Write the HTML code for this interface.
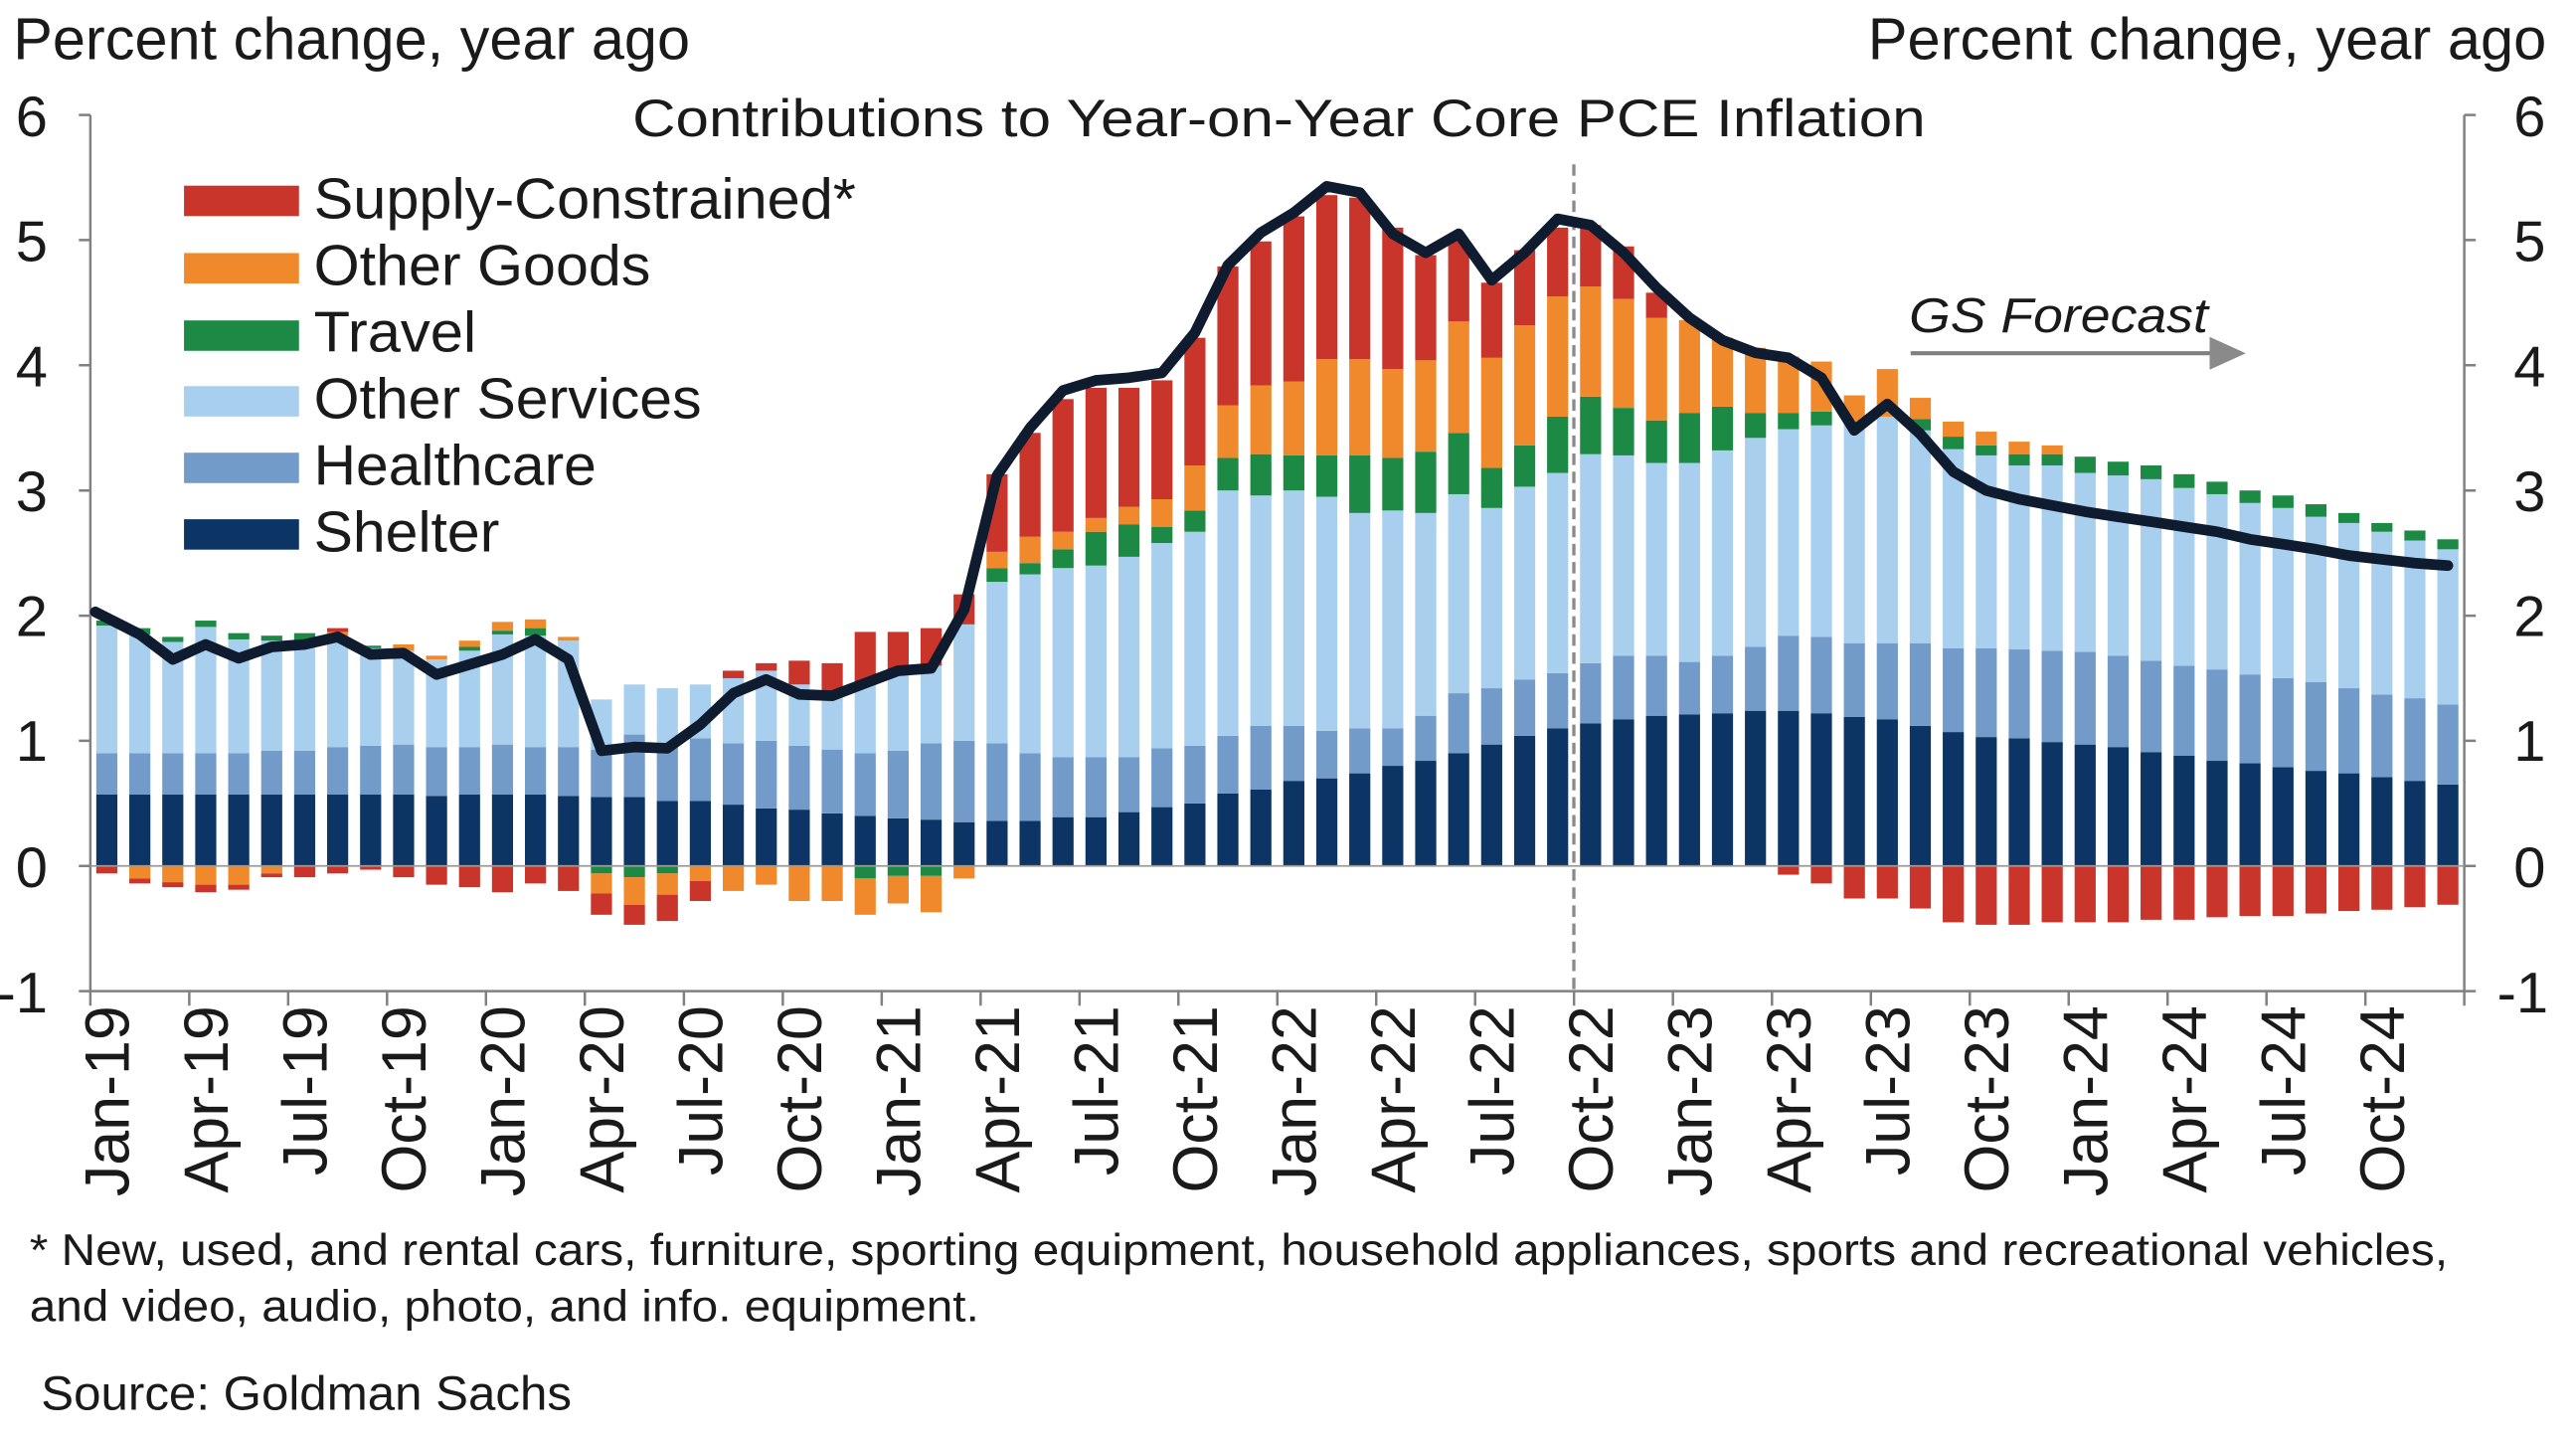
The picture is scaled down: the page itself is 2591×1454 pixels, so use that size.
<!DOCTYPE html>
<html><head><meta charset="utf-8"><style>
html,body{margin:0;padding:0;background:#fff;}
svg{display:block;}
text{font-family:"Liberation Sans",Arial,sans-serif;fill:#1a1a1a;}
</style></head><body>
<svg width="2591" height="1454" viewBox="0 0 1568 880" preserveAspectRatio="none" xmlns="http://www.w3.org/2000/svg">
<rect x="0" y="0" width="1568" height="880" fill="#fff"/>
<!-- headers -->
<text x="8" y="36" font-size="36" textLength="412" lengthAdjust="spacingAndGlyphs">Percent change, year ago</text>
<text x="1137" y="36" font-size="36" textLength="413" lengthAdjust="spacingAndGlyphs">Percent change, year ago</text>
<text x="385" y="83" font-size="32" textLength="787" lengthAdjust="spacingAndGlyphs">Contributions to Year-on-Year Core PCE Inflation</text>

<!-- data -->
<g transform="translate(55,527) scale(20.07,-76.17)">
<g fill="#0c3566">
<rect x=".18" width=".64" height=".57"/><rect x="1.18" width=".64" height=".57"/><rect x="2.18" width=".64" height=".57"/><rect x="3.18" width=".64" height=".57"/><rect x="4.18" width=".64" height=".57"/><rect x="5.18" width=".64" height=".57"/><rect x="6.18" width=".64" height=".57"/><rect x="7.18" width=".64" height=".57"/><rect x="8.18" width=".64" height=".57"/><rect x="9.18" width=".64" height=".57"/><rect x="10.18" width=".64" height=".56"/><rect x="11.18" width=".64" height=".57"/><rect x="12.18" width=".64" height=".57"/><rect x="13.18" width=".64" height=".57"/><rect x="14.18" width=".64" height=".56"/><rect x="15.18" width=".64" height=".55"/><rect x="16.18" width=".64" height=".55"/><rect x="17.18" width=".64" height=".52"/><rect x="18.18" width=".64" height=".52"/><rect x="19.18" width=".64" height=".49"/><rect x="20.18" width=".64" height=".46"/><rect x="21.18" width=".64" height=".45"/><rect x="22.18" width=".64" height=".42"/><rect x="23.18" width=".64" height=".4"/><rect x="24.18" width=".64" height=".38"/><rect x="25.18" width=".64" height=".37"/><rect x="26.18" width=".64" height=".35"/><rect x="27.18" width=".64" height=".36"/><rect x="28.18" width=".64" height=".36"/><rect x="29.18" width=".64" height=".39"/><rect x="30.18" width=".64" height=".39"/><rect x="31.18" width=".64" height=".43"/><rect x="32.18" width=".64" height=".47"/><rect x="33.18" width=".64" height=".5"/><rect x="34.18" width=".64" height=".58"/><rect x="35.18" width=".64" height=".61"/><rect x="36.18" width=".64" height=".68"/><rect x="37.18" width=".64" height=".7"/><rect x="38.18" width=".64" height=".74"/><rect x="39.18" width=".64" height=".8"/><rect x="40.18" width=".64" height=".84"/><rect x="41.18" width=".64" height=".9"/><rect x="42.18" width=".64" height=".97"/><rect x="43.18" width=".64" height="1.04"/><rect x="44.18" width=".64" height="1.1"/><rect x="45.18" width=".64" height="1.14"/><rect x="46.18" width=".64" height="1.17"/><rect x="47.18" width=".64" height="1.2"/><rect x="48.18" width=".64" height="1.21"/><rect x="49.18" width=".64" height="1.22"/><rect x="50.18" width=".64" height="1.24"/><rect x="51.18" width=".64" height="1.24"/><rect x="52.18" width=".64" height="1.22"/><rect x="53.18" width=".64" height="1.19"/><rect x="54.18" width=".64" height="1.17"/><rect x="55.18" width=".64" height="1.12"/><rect x="56.18" width=".64" height="1.07"/><rect x="57.18" width=".64" height="1.03"/><rect x="58.18" width=".64" height="1.02"/><rect x="59.18" width=".64" height=".99"/><rect x="60.18" width=".64" height=".97"/><rect x="61.18" width=".64" height=".95"/><rect x="62.18" width=".64" height=".91"/><rect x="63.18" width=".64" height=".88"/><rect x="64.18" width=".64" height=".84"/><rect x="65.18" width=".64" height=".82"/><rect x="66.18" width=".64" height=".79"/><rect x="67.18" width=".64" height=".76"/><rect x="68.18" width=".64" height=".74"/><rect x="69.18" width=".64" height=".71"/><rect x="70.18" width=".64" height=".68"/><rect x="71.18" width=".64" height=".65"/>
</g>
<g fill="#729bc9">
<rect x=".18" y=".57" width=".64" height=".33"/><rect x="1.18" y=".57" width=".64" height=".33"/><rect x="2.18" y=".57" width=".64" height=".33"/><rect x="3.18" y=".57" width=".64" height=".33"/><rect x="4.18" y=".57" width=".64" height=".33"/><rect x="5.18" y=".57" width=".64" height=".35"/><rect x="6.18" y=".57" width=".64" height=".35"/><rect x="7.18" y=".57" width=".64" height=".38"/><rect x="8.18" y=".57" width=".64" height=".39"/><rect x="9.18" y=".57" width=".64" height=".4"/><rect x="10.18" y=".56" width=".64" height=".39"/><rect x="11.18" y=".57" width=".64" height=".38"/><rect x="12.18" y=".57" width=".64" height=".4"/><rect x="13.18" y=".57" width=".64" height=".38"/><rect x="14.18" y=".56" width=".64" height=".39"/><rect x="15.18" y=".55" width=".64" height=".38"/><rect x="16.18" y=".55" width=".64" height=".5"/><rect x="17.18" y=".52" width=".64" height=".46"/><rect x="18.18" y=".52" width=".64" height=".5"/><rect x="19.18" y=".49" width=".64" height=".49"/><rect x="20.18" y=".46" width=".64" height=".54"/><rect x="21.18" y=".45" width=".64" height=".51"/><rect x="22.18" y=".42" width=".64" height=".51"/><rect x="23.18" y=".4" width=".64" height=".5"/><rect x="24.18" y=".38" width=".64" height=".54"/><rect x="25.18" y=".37" width=".64" height=".61"/><rect x="26.18" y=".35" width=".64" height=".65"/><rect x="27.18" y=".36" width=".64" height=".62"/><rect x="28.18" y=".36" width=".64" height=".54"/><rect x="29.18" y=".39" width=".64" height=".48"/><rect x="30.18" y=".39" width=".64" height=".48"/><rect x="31.18" y=".43" width=".64" height=".44"/><rect x="32.18" y=".47" width=".64" height=".47"/><rect x="33.18" y=".5" width=".64" height=".46"/><rect x="34.18" y=".58" width=".64" height=".46"/><rect x="35.18" y=".61" width=".64" height=".51"/><rect x="36.18" y=".68" width=".64" height=".44"/><rect x="37.18" y=".7" width=".64" height=".38"/><rect x="38.18" y=".74" width=".64" height=".36"/><rect x="39.18" y=".8" width=".64" height=".3"/><rect x="40.18" y=".84" width=".64" height=".36"/><rect x="41.18" y=".9" width=".64" height=".48"/><rect x="42.18" y=".97" width=".64" height=".45"/><rect x="43.18" y="1.04" width=".64" height=".45"/><rect x="44.18" y="1.1" width=".64" height=".44"/><rect x="45.18" y="1.14" width=".64" height=".48"/><rect x="46.18" y="1.17" width=".64" height=".51"/><rect x="47.18" y="1.2" width=".64" height=".48"/><rect x="48.18" y="1.21" width=".64" height=".42"/><rect x="49.18" y="1.22" width=".64" height=".46"/><rect x="50.18" y="1.24" width=".64" height=".51"/><rect x="51.18" y="1.24" width=".64" height=".6"/><rect x="52.18" y="1.22" width=".64" height=".61"/><rect x="53.18" y="1.19" width=".64" height=".59"/><rect x="54.18" y="1.17" width=".64" height=".61"/><rect x="55.18" y="1.12" width=".64" height=".66"/><rect x="56.18" y="1.07" width=".64" height=".67"/><rect x="57.18" y="1.03" width=".64" height=".71"/><rect x="58.18" y="1.02" width=".64" height=".71"/><rect x="59.18" y=".99" width=".64" height=".73"/><rect x="60.18" y=".97" width=".64" height=".74"/><rect x="61.18" y=".95" width=".64" height=".73"/><rect x="62.18" y=".91" width=".64" height=".73"/><rect x="63.18" y=".88" width=".64" height=".72"/><rect x="64.18" y=".84" width=".64" height=".73"/><rect x="65.18" y=".82" width=".64" height=".71"/><rect x="66.18" y=".79" width=".64" height=".71"/><rect x="67.18" y=".76" width=".64" height=".71"/><rect x="68.18" y=".74" width=".64" height=".68"/><rect x="69.18" y=".71" width=".64" height=".66"/><rect x="70.18" y=".68" width=".64" height=".66"/><rect x="71.18" y=".65" width=".64" height=".64"/>
</g>
<g fill="#a9cfee">
<rect x=".18" y=".9" width=".64" height="1.02"/><rect x="1.18" y=".9" width=".64" height=".95"/><rect x="2.18" y=".9" width=".64" height=".89"/><rect x="3.18" y=".9" width=".64" height="1.01"/><rect x="4.18" y=".9" width=".64" height=".91"/><rect x="5.18" y=".92" width=".64" height=".88"/><rect x="6.18" y=".92" width=".64" height=".88"/><rect x="7.18" y=".95" width=".64" height=".89"/><rect x="8.18" y=".96" width=".64" height=".78"/><rect x="9.18" y=".97" width=".64" height=".75"/><rect x="10.18" y=".95" width=".64" height=".7"/><rect x="11.18" y=".95" width=".64" height=".77"/><rect x="12.18" y=".97" width=".64" height=".88"/><rect x="13.18" y=".95" width=".64" height=".89"/><rect x="14.18" y=".95" width=".64" height=".85"/><rect x="15.18" y=".93" width=".64" height=".4"/><rect x="16.18" y="1.05" width=".64" height=".4"/><rect x="17.18" y=".98" width=".64" height=".44"/><rect x="18.18" y="1.02" width=".64" height=".43"/><rect x="19.18" y=".98" width=".64" height=".52"/><rect x="20.18" y="1" width=".64" height=".56"/><rect x="21.18" y=".96" width=".64" height=".49"/><rect x="22.18" y=".93" width=".64" height=".45"/><rect x="23.18" y=".9" width=".64" height=".55"/><rect x="24.18" y=".92" width=".64" height=".63"/><rect x="25.18" y=".98" width=".64" height=".62"/><rect x="26.18" y="1" width=".64" height=".93"/><rect x="27.18" y=".98" width=".64" height="1.29"/><rect x="28.18" y=".9" width=".64" height="1.43"/><rect x="29.18" y=".87" width=".64" height="1.51"/><rect x="30.18" y=".87" width=".64" height="1.53"/><rect x="31.18" y=".87" width=".64" height="1.6"/><rect x="32.18" y=".94" width=".64" height="1.64"/><rect x="33.18" y=".96" width=".64" height="1.71"/><rect x="34.18" y="1.04" width=".64" height="1.96"/><rect x="35.18" y="1.12" width=".64" height="1.84"/><rect x="36.18" y="1.12" width=".64" height="1.88"/><rect x="37.18" y="1.08" width=".64" height="1.87"/><rect x="38.18" y="1.1" width=".64" height="1.72"/><rect x="39.18" y="1.1" width=".64" height="1.74"/><rect x="40.18" y="1.2" width=".64" height="1.62"/><rect x="41.18" y="1.38" width=".64" height="1.59"/><rect x="42.18" y="1.42" width=".64" height="1.44"/><rect x="43.18" y="1.49" width=".64" height="1.54"/><rect x="44.18" y="1.54" width=".64" height="1.6"/><rect x="45.18" y="1.62" width=".64" height="1.67"/><rect x="46.18" y="1.68" width=".64" height="1.6"/><rect x="47.18" y="1.68" width=".64" height="1.54"/><rect x="48.18" y="1.63" width=".64" height="1.59"/><rect x="49.18" y="1.68" width=".64" height="1.64"/><rect x="50.18" y="1.75" width=".64" height="1.67"/><rect x="51.18" y="1.84" width=".64" height="1.65"/><rect x="52.18" y="1.83" width=".64" height="1.69"/><rect x="53.18" y="1.78" width=".64" height="1.75"/><rect x="54.18" y="1.78" width=".64" height="1.81"/><rect x="55.18" y="1.78" width=".64" height="1.7"/><rect x="56.18" y="1.74" width=".64" height="1.59"/><rect x="57.18" y="1.74" width=".64" height="1.54"/><rect x="58.18" y="1.73" width=".64" height="1.47"/><rect x="59.18" y="1.72" width=".64" height="1.48"/><rect x="60.18" y="1.71" width=".64" height="1.43"/><rect x="61.18" y="1.68" width=".64" height="1.44"/><rect x="62.18" y="1.64" width=".64" height="1.45"/><rect x="63.18" y="1.6" width=".64" height="1.42"/><rect x="64.18" y="1.57" width=".64" height="1.4"/><rect x="65.18" y="1.53" width=".64" height="1.37"/><rect x="66.18" y="1.5" width=".64" height="1.36"/><rect x="67.18" y="1.47" width=".64" height="1.32"/><rect x="68.18" y="1.42" width=".64" height="1.32"/><rect x="69.18" y="1.37" width=".64" height="1.3"/><rect x="70.18" y="1.34" width=".64" height="1.26"/><rect x="71.18" y="1.29" width=".64" height="1.24"/>
</g>
<g fill="#1c8a45">
<rect x=".18" y="1.92" width=".64" height=".04"/><rect x="1.18" y="1.85" width=".64" height=".05"/><rect x="2.18" y="1.79" width=".64" height=".04"/><rect x="3.18" y="1.91" width=".64" height=".05"/><rect x="4.18" y="1.81" width=".64" height=".05"/><rect x="5.18" y="1.8" width=".64" height=".04"/><rect x="6.18" y="1.8" width=".64" height=".06"/><rect x="8.18" y="1.74" width=".64" height=".02"/><rect x="11.18" y="1.72" width=".64" height=".03"/><rect x="12.18" y="1.85" width=".64" height=".03"/><rect x="13.18" y="1.84" width=".64" height=".06"/>
<rect x="27.18" y="2.27" width=".64" height=".11"/><rect x="28.18" y="2.33" width=".64" height=".09"/><rect x="29.18" y="2.38" width=".64" height=".15"/><rect x="30.18" y="2.4" width=".64" height=".27"/><rect x="31.18" y="2.47" width=".64" height=".26"/><rect x="32.18" y="2.58" width=".64" height=".13"/><rect x="33.18" y="2.67" width=".64" height=".17"/><rect x="34.18" y="3" width=".64" height=".26"/><rect x="35.18" y="2.96" width=".64" height=".33"/><rect x="36.18" y="3" width=".64" height=".28"/><rect x="37.18" y="2.95" width=".64" height=".33"/><rect x="38.18" y="2.82" width=".64" height=".46"/><rect x="39.18" y="2.84" width=".64" height=".42"/><rect x="40.18" y="2.82" width=".64" height=".49"/><rect x="41.18" y="2.97" width=".64" height=".49"/><rect x="42.18" y="2.86" width=".64" height=".32"/><rect x="43.18" y="3.03" width=".64" height=".33"/><rect x="44.18" y="3.14" width=".64" height=".45"/><rect x="45.18" y="3.29" width=".64" height=".46"/><rect x="46.18" y="3.28" width=".64" height=".38"/><rect x="47.18" y="3.22" width=".64" height=".34"/><rect x="48.18" y="3.22" width=".64" height=".4"/><rect x="49.18" y="3.32" width=".64" height=".35"/><rect x="50.18" y="3.42" width=".64" height=".2"/><rect x="51.18" y="3.49" width=".64" height=".13"/><rect x="52.18" y="3.52" width=".64" height=".11"/><rect x="53.18" y="3.53" width=".64" height=".02"/><rect x="55.18" y="3.48" width=".64" height=".09"/><rect x="56.18" y="3.33" width=".64" height=".1"/><rect x="57.18" y="3.28" width=".64" height=".08"/><rect x="58.18" y="3.2" width=".64" height=".09"/><rect x="59.18" y="3.2" width=".64" height=".09"/><rect x="60.18" y="3.14" width=".64" height=".13"/><rect x="61.18" y="3.12" width=".64" height=".11"/><rect x="62.18" y="3.09" width=".64" height=".11"/><rect x="63.18" y="3.02" width=".64" height=".11"/><rect x="64.18" y="2.97" width=".64" height=".1"/><rect x="65.18" y="2.9" width=".64" height=".1"/><rect x="66.18" y="2.86" width=".64" height=".1"/><rect x="67.18" y="2.79" width=".64" height=".1"/><rect x="68.18" y="2.74" width=".64" height=".08"/><rect x="69.18" y="2.67" width=".64" height=".07"/><rect x="70.18" y="2.6" width=".64" height=".08"/><rect x="71.18" y="2.53" width=".64" height=".08"/>
<rect x="15.18" y="-.06" width=".64" height=".06"/><rect x="16.18" y="-.09" width=".64" height=".09"/><rect x="17.18" y="-.06" width=".64" height=".06"/><rect x="23.18" y="-.1" width=".64" height=".1"/><rect x="24.18" y="-.08" width=".64" height=".08"/><rect x="25.18" y="-.08" width=".64" height=".08"/>
</g>
<g fill="#f0892c">
<rect x="7.18" y="1.84" width=".64" height=".03"/><rect x="9.18" y="1.72" width=".64" height=".05"/><rect x="10.18" y="1.65" width=".64" height=".03"/><rect x="11.18" y="1.75" width=".64" height=".05"/><rect x="12.18" y="1.88" width=".64" height=".07"/><rect x="13.18" y="1.9" width=".64" height=".07"/><rect x="14.18" y="1.8" width=".64" height=".03"/>
<rect x="27.18" y="2.38" width=".64" height=".13"/><rect x="28.18" y="2.42" width=".64" height=".21"/><rect x="29.18" y="2.53" width=".64" height=".14"/><rect x="30.18" y="2.67" width=".64" height=".11"/><rect x="31.18" y="2.73" width=".64" height=".14"/><rect x="32.18" y="2.71" width=".64" height=".22"/><rect x="33.18" y="2.84" width=".64" height=".36"/><rect x="34.18" y="3.26" width=".64" height=".42"/><rect x="35.18" y="3.29" width=".64" height=".55"/><rect x="36.18" y="3.28" width=".64" height=".59"/><rect x="37.18" y="3.28" width=".64" height=".77"/><rect x="38.18" y="3.28" width=".64" height=".77"/><rect x="39.18" y="3.26" width=".64" height=".71"/><rect x="40.18" y="3.31" width=".64" height=".73"/><rect x="41.18" y="3.46" width=".64" height=".89"/><rect x="42.18" y="3.18" width=".64" height=".88"/><rect x="43.18" y="3.36" width=".64" height=".96"/><rect x="44.18" y="3.59" width=".64" height=".96"/><rect x="45.18" y="3.75" width=".64" height=".88"/><rect x="46.18" y="3.66" width=".64" height=".87"/><rect x="47.18" y="3.56" width=".64" height=".82"/><rect x="48.18" y="3.62" width=".64" height=".74"/><rect x="49.18" y="3.67" width=".64" height=".55"/><rect x="50.18" y="3.62" width=".64" height=".52"/><rect x="51.18" y="3.62" width=".64" height=".45"/><rect x="52.18" y="3.63" width=".64" height=".4"/><rect x="53.18" y="3.55" width=".64" height=".21"/><rect x="54.18" y="3.59" width=".64" height=".38"/><rect x="55.18" y="3.57" width=".64" height=".17"/><rect x="56.18" y="3.43" width=".64" height=".12"/><rect x="57.18" y="3.36" width=".64" height=".11"/><rect x="58.18" y="3.29" width=".64" height=".1"/><rect x="59.18" y="3.29" width=".64" height=".07"/>
<rect x="1.18" y="-.1" width=".64" height=".1"/><rect x="2.18" y="-.13" width=".64" height=".13"/><rect x="3.18" y="-.15" width=".64" height=".15"/><rect x="4.18" y="-.15" width=".64" height=".15"/><rect x="5.18" y="-.06" width=".64" height=".06"/><rect x="15.18" y="-.22" width=".64" height=".16"/><rect x="16.18" y="-.31" width=".64" height=".22"/><rect x="17.18" y="-.23" width=".64" height=".17"/><rect x="18.18" y="-.12" width=".64" height=".12"/><rect x="19.18" y="-.2" width=".64" height=".2"/><rect x="20.18" y="-.15" width=".64" height=".15"/><rect x="21.18" y="-.28" width=".64" height=".28"/><rect x="22.18" y="-.28" width=".64" height=".28"/><rect x="23.18" y="-.39" width=".64" height=".29"/><rect x="24.18" y="-.3" width=".64" height=".22"/><rect x="25.18" y="-.37" width=".64" height=".29"/><rect x="26.18" y="-.1" width=".64" height=".1"/>
</g>
<g fill="#c9352b">
<rect x="7.18" y="1.87" width=".64" height=".03"/><rect x="19.18" y="1.5" width=".64" height=".06"/><rect x="20.18" y="1.56" width=".64" height=".06"/><rect x="21.18" y="1.45" width=".64" height=".19"/><rect x="22.18" y="1.38" width=".64" height=".24"/><rect x="23.18" y="1.45" width=".64" height=".42"/><rect x="24.18" y="1.55" width=".64" height=".32"/><rect x="25.18" y="1.6" width=".64" height=".3"/><rect x="26.18" y="1.93" width=".64" height=".24"/>
<rect x="27.18" y="2.51" width=".64" height=".62"/><rect x="28.18" y="2.63" width=".64" height=".83"/><rect x="29.18" y="2.67" width=".64" height="1.06"/><rect x="30.18" y="2.78" width=".64" height="1.04"/><rect x="31.18" y="2.87" width=".64" height=".95"/><rect x="32.18" y="2.93" width=".64" height=".95"/><rect x="33.18" y="3.2" width=".64" height="1.02"/><rect x="34.18" y="3.68" width=".64" height="1.11"/><rect x="35.18" y="3.84" width=".64" height="1.15"/><rect x="36.18" y="3.87" width=".64" height="1.32"/><rect x="37.18" y="4.05" width=".64" height="1.31"/><rect x="38.18" y="4.05" width=".64" height="1.29"/><rect x="39.18" y="3.97" width=".64" height="1.13"/><rect x="40.18" y="4.04" width=".64" height=".84"/><rect x="41.18" y="4.35" width=".64" height=".65"/><rect x="42.18" y="4.06" width=".64" height=".6"/><rect x="43.18" y="4.32" width=".64" height=".6"/><rect x="44.18" y="4.55" width=".64" height=".55"/><rect x="45.18" y="4.63" width=".64" height=".49"/><rect x="46.18" y="4.53" width=".64" height=".42"/><rect x="47.18" y="4.38" width=".64" height=".2"/>
<rect x=".18" y="-.06" width=".64" height=".06"/><rect x="1.18" y="-.14" width=".64" height=".04"/><rect x="2.18" y="-.17" width=".64" height=".04"/><rect x="3.18" y="-.21" width=".64" height=".06"/><rect x="4.18" y="-.19" width=".64" height=".04"/><rect x="5.18" y="-.09" width=".64" height=".03"/><rect x="6.18" y="-.09" width=".64" height=".09"/><rect x="7.18" y="-.06" width=".64" height=".06"/><rect x="8.18" y="-.03" width=".64" height=".03"/><rect x="9.18" y="-.09" width=".64" height=".09"/><rect x="10.18" y="-.15" width=".64" height=".15"/><rect x="11.18" y="-.17" width=".64" height=".17"/><rect x="12.18" y="-.21" width=".64" height=".21"/><rect x="13.18" y="-.14" width=".64" height=".14"/><rect x="14.18" y="-.2" width=".64" height=".2"/><rect x="15.18" y="-.39" width=".64" height=".17"/><rect x="16.18" y="-.47" width=".64" height=".16"/><rect x="17.18" y="-.44" width=".64" height=".21"/><rect x="18.18" y="-.28" width=".64" height=".16"/>
<rect x="51.18" y="-.07" width=".64" height=".07"/><rect x="52.18" y="-.14" width=".64" height=".14"/><rect x="53.18" y="-.26" width=".64" height=".26"/><rect x="54.18" y="-.26" width=".64" height=".26"/><rect x="55.18" y="-.34" width=".64" height=".34"/><rect x="56.18" y="-.45" width=".64" height=".45"/><rect x="57.18" y="-.47" width=".64" height=".47"/><rect x="58.18" y="-.47" width=".64" height=".47"/><rect x="59.18" y="-.45" width=".64" height=".45"/><rect x="60.18" y="-.45" width=".64" height=".45"/><rect x="61.18" y="-.45" width=".64" height=".45"/><rect x="62.18" y="-.43" width=".64" height=".43"/><rect x="63.18" y="-.43" width=".64" height=".43"/><rect x="64.18" y="-.41" width=".64" height=".41"/><rect x="65.18" y="-.4" width=".64" height=".4"/><rect x="66.18" y="-.4" width=".64" height=".4"/><rect x="67.18" y="-.38" width=".64" height=".38"/><rect x="68.18" y="-.36" width=".64" height=".36"/><rect x="69.18" y="-.35" width=".64" height=".35"/><rect x="70.18" y="-.33" width=".64" height=".33"/><rect x="71.18" y="-.31" width=".64" height=".31"/>
</g>
</g>

<!-- axes -->
<g stroke="#808080" stroke-width="1.5" fill="none">
<line x1="55" y1="70" x2="55" y2="603.2"/>
<line x1="1500" y1="70" x2="1500" y2="603.2"/>
<line x1="55" y1="603.2" x2="1500" y2="603.2"/>
<line x1="55" y1="527" x2="1500" y2="527" stroke="#9a9a9a" stroke-width="1"/>
<path d="M48 70H55M48 146.1H55M48 222.3H55M48 298.5H55M48 374.7H55M48 450.8H55M48 527H55M48 603.2H55"/>
<path d="M1500 70H1507M1500 146.1H1507M1500 222.3H1507M1500 298.5H1507M1500 374.7H1507M1500 450.8H1507M1500 527H1507M1500 603.2H1507"/>
<path d="M55 603V612M115.2 603V612M175.4 603V612M235.6 603V612M295.8 603V612M356 603V612M416.3 603V612M476.5 603V612M536.7 603V612M596.9 603V612M657.1 603V612M717.3 603V612M777.5 603V612M837.7 603V612M897.9 603V612M958.1 603V612M1018.3 603V612M1078.6 603V612M1138.8 603V612M1199 603V612M1259.2 603V612M1319.4 603V612M1379.6 603V612M1439.8 603V612M1500 603V612"/>
</g>
<line x1="958" y1="100" x2="958" y2="603" stroke="#8a8a8a" stroke-width="2" stroke-dasharray="7 4"/>

<!-- total line -->
<polyline fill="none" stroke="#0f1c30" stroke-width="6.5" stroke-linejoin="round" stroke-linecap="round" points="58,372.4 85.1,386.1 105.2,401.3 125.2,392.2 145.3,400.6 165.4,393.7 185.5,392.2 205.5,387.6 225.6,398.3 245.7,397.5 265.7,410.5 285.8,404.4 305.9,398.3 325.9,389.1 346,401.3 366.1,456.9 386.2,454.6 406.2,455.4 426.3,440.9 446.4,421.9 466.4,413.5 486.5,422.6 506.6,423.4 526.6,415.8 546.7,408.2 566.8,406.7 586.9,370.9 606.9,289.4 627,260.4 647.1,237.6 667.1,231.5 687.2,229.9 707.3,226.9 727.3,202.5 747.4,161.4 767.5,141.6 787.6,129.4 807.6,113.4 827.7,117.2 847.8,142.3 867.8,153.8 887.9,142.3 908,170.5 928,153.8 948.1,133.2 968.2,137 988.3,153.8 1008.3,175.1 1028.4,193.4 1048.5,207.1 1068.5,214.7 1088.6,217.8 1108.7,229.9 1128.7,261.9 1148.8,245.9 1168.9,264.2 1189,287.1 1209,298.5 1229.1,303.8 1249.2,307.6 1269.2,311.4 1289.3,314.5 1309.4,317.5 1329.4,320.6 1349.5,323.6 1369.6,328.2 1389.7,331.2 1409.7,334.3 1429.8,338.1 1449.9,340.4 1469.9,342.7 1490,344.2"/>

<!-- y labels -->
<g font-size="35" text-anchor="end">
<text x="29" y="83">6</text><text x="29" y="159">5</text><text x="29" y="235">4</text><text x="29" y="311">3</text><text x="29" y="387">2</text><text x="29" y="463">1</text><text x="29" y="540">0</text><text x="29" y="616">-1</text>
</g>
<g font-size="35" text-anchor="start">
<text x="1530" y="83">6</text><text x="1530" y="159">5</text><text x="1530" y="235">4</text><text x="1530" y="311">3</text><text x="1530" y="387">2</text><text x="1530" y="463">1</text><text x="1530" y="540">0</text><text x="1520" y="616">-1</text>
</g>

<!-- legend -->
<rect x="112" y="113" width="70" height="18.5" fill="#c9352b"/>
<rect x="112" y="154" width="70" height="18.5" fill="#f0892c"/>
<rect x="112" y="195" width="70" height="18.5" fill="#1c8a45"/>
<rect x="112" y="235" width="70" height="18.5" fill="#a9cfee"/>
<rect x="112" y="275.5" width="70" height="18.5" fill="#729bc9"/>
<rect x="112" y="316" width="70" height="18.5" fill="#0c3566"/>
<g font-size="35">
<text x="191" y="133" textLength="330" lengthAdjust="spacingAndGlyphs">Supply-Constrained*</text>
<text x="191" y="173.5" textLength="205" lengthAdjust="spacingAndGlyphs">Other Goods</text>
<text x="191" y="214" textLength="99" lengthAdjust="spacingAndGlyphs">Travel</text>
<text x="191" y="254.5" textLength="236" lengthAdjust="spacingAndGlyphs">Other Services</text>
<text x="191" y="295" textLength="172" lengthAdjust="spacingAndGlyphs">Healthcare</text>
<text x="191" y="335.5" textLength="113" lengthAdjust="spacingAndGlyphs">Shelter</text>
</g>

<!-- forecast annotation -->
<text x="1162" y="202" font-size="30" font-style="italic" textLength="182" lengthAdjust="spacingAndGlyphs">GS Forecast</text>
<line x1="1163" y1="215" x2="1348" y2="215" stroke="#7f7f7f" stroke-width="2.5"/>
<polygon points="1345,205 1367,215 1345,225" fill="#8a8a8a"/>

<!-- x labels -->
<g font-size="38" text-anchor="end">
<text transform="translate(78.5,612) rotate(-90)">Jan-19</text>
<text transform="translate(138.7,612) rotate(-90)">Apr-19</text>
<text transform="translate(198.9,612) rotate(-90)">Jul-19</text>
<text transform="translate(259.1,612) rotate(-90)">Oct-19</text>
<text transform="translate(319.3,612) rotate(-90)">Jan-20</text>
<text transform="translate(379.5,612) rotate(-90)">Apr-20</text>
<text transform="translate(439.8,612) rotate(-90)">Jul-20</text>
<text transform="translate(500,612) rotate(-90)">Oct-20</text>
<text transform="translate(560.2,612) rotate(-90)">Jan-21</text>
<text transform="translate(620.4,612) rotate(-90)">Apr-21</text>
<text transform="translate(680.6,612) rotate(-90)">Jul-21</text>
<text transform="translate(740.8,612) rotate(-90)">Oct-21</text>
<text transform="translate(801,612) rotate(-90)">Jan-22</text>
<text transform="translate(861.2,612) rotate(-90)">Apr-22</text>
<text transform="translate(921.4,612) rotate(-90)">Jul-22</text>
<text transform="translate(981.6,612) rotate(-90)">Oct-22</text>
<text transform="translate(1041.8,612) rotate(-90)">Jan-23</text>
<text transform="translate(1102.1,612) rotate(-90)">Apr-23</text>
<text transform="translate(1162.3,612) rotate(-90)">Jul-23</text>
<text transform="translate(1222.5,612) rotate(-90)">Oct-23</text>
<text transform="translate(1282.7,612) rotate(-90)">Jan-24</text>
<text transform="translate(1342.9,612) rotate(-90)">Apr-24</text>
<text transform="translate(1403.1,612) rotate(-90)">Jul-24</text>
<text transform="translate(1463.3,612) rotate(-90)">Oct-24</text>
</g>

<!-- footnote & source -->
<text x="18" y="770" font-size="27" textLength="1472" lengthAdjust="spacingAndGlyphs">* New, used, and rental cars, furniture, sporting equipment, household appliances, sports and recreational vehicles,</text>
<text x="18" y="804" font-size="27" textLength="578" lengthAdjust="spacingAndGlyphs">and video, audio, photo, and info. equipment.</text>
<text x="25" y="858" font-size="29" textLength="323" lengthAdjust="spacingAndGlyphs">Source: Goldman Sachs</text>
</svg>
</body></html>
